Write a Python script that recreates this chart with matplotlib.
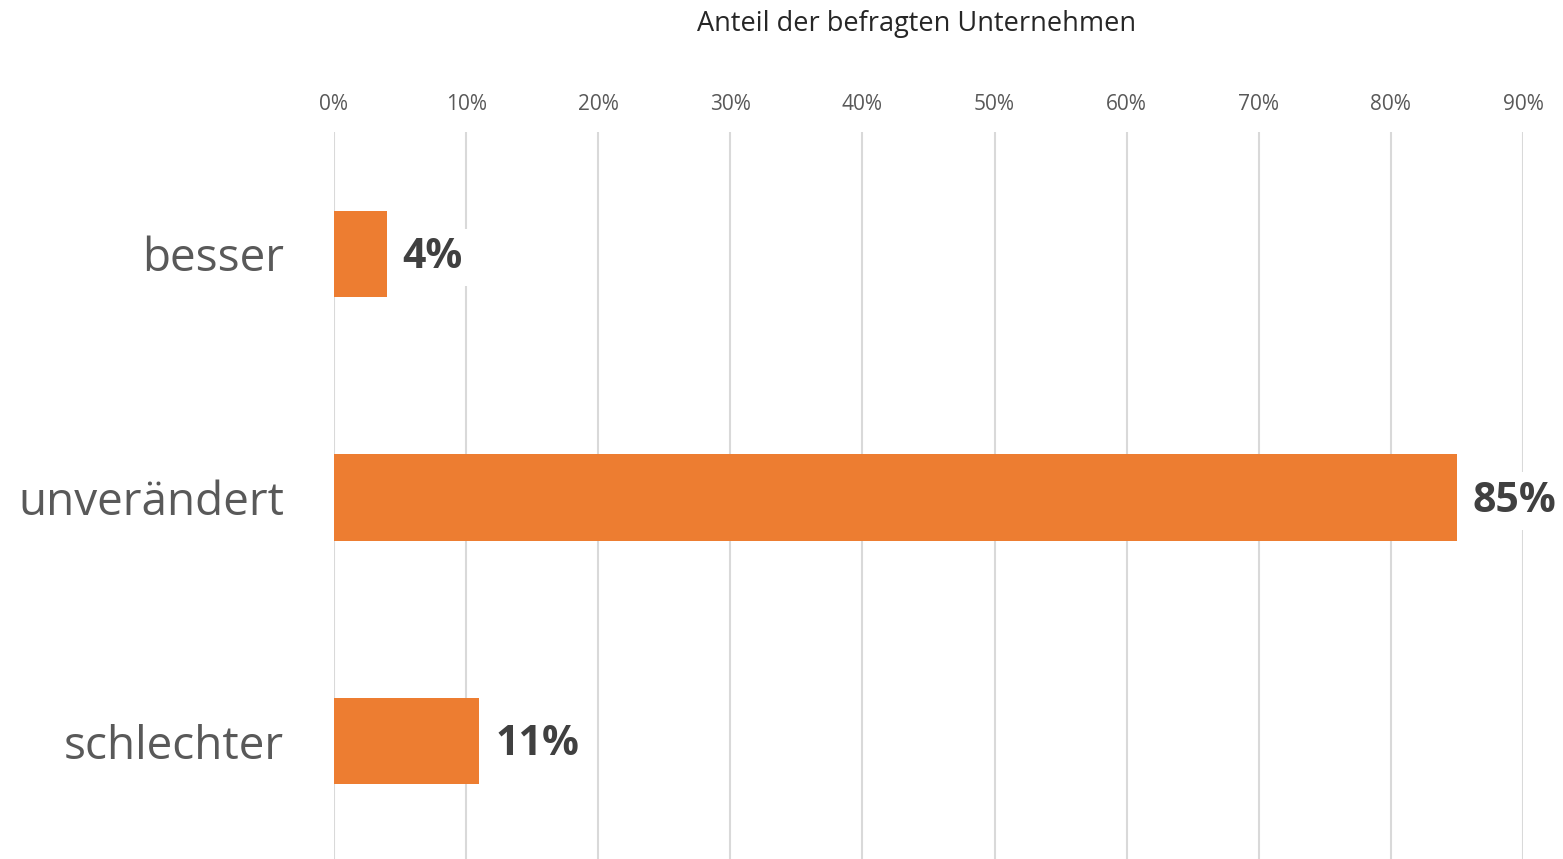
import matplotlib.pyplot as plt
from matplotlib.ticker import FuncFormatter

plt.rcParams['font.family'] = ['Open Sans', 'DejaVu Sans']

kategorien = ['besser', 'unverändert', 'schlechter']
anteile = [4, 85, 11]
labels = ['4%', '85%', '11%']
xticks = [0, 10, 20, 30, 40, 50, 60, 70, 80, 90]

orange = '#ED7D31'
grau = '#595959'

fig = plt.figure(figsize=(15.63, 8.59), dpi=100)
ax = fig.add_axes([334 / 1563, 1 - 863 / 859, (1523 - 334) / 1563, 731 / 859])

y = range(len(kategorien))
ax.barh(y, anteile, height=0.353, color=orange, zorder=2)

for yi, v, lab in zip(y, anteile, labels):
    ax.text(v + 1.2, yi + 0.015, lab, va='center', ha='left', fontsize=29.5,
            fontweight='bold', color='#404040', zorder=3,
            bbox=dict(facecolor='white', edgecolor='none', pad=6))

ax.set_xlim(0, 90)
ax.set_ylim(2.5, -0.5)
ax.set_xticks(xticks)
ax.xaxis.set_major_formatter(FuncFormatter(lambda v, p: f'{v:.0f}%'))
ax.xaxis.tick_top()
ax.tick_params(axis='x', length=0, pad=12, labelsize=15, labelcolor=grau)
ax.set_yticks(list(y))
ax.set_yticklabels(kategorien, fontsize=33, color=grau)
ax.tick_params(axis='y', length=0, pad=36)
ax.grid(axis='x', color='#D9D9D9', linewidth=1.5, zorder=0)
for s in ax.spines.values():
    s.set_visible(False)

fig.text(917 / 1563, 1 - 24 / 859, 'Anteil der befragten Unternehmen',
         ha='center', va='center', fontsize=19.5, color='#262626')

fig.savefig('out.png', dpi=100)
